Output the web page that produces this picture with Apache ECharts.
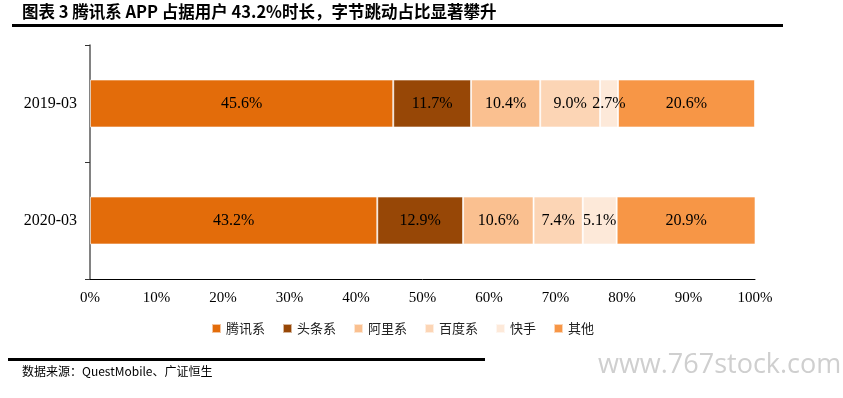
<!DOCTYPE html>
<html>
<head>
<meta charset="utf-8">
<script src="https://cdn.jsdelivr.net/npm/echarts@6/dist/echarts.min.js"></script>
<style>
  html, body { margin: 0; padding: 0; background: #fff; }
  #main { width: 843px; height: 398px; }
</style>
</head>
<body>
<div id="main"></div>
<script>
// 数据
var categories = ['2019-03', '2020-03'];
var seriesNames = ['腾讯系', '头条系', '阿里系', '百度系', '快手', '其他'];
var tengxun = [45.6, 43.2];
var toutiao = [11.7, 12.9];
var ali = [10.4, 10.6];
var baidu = [9.0, 7.4];
var kuaishou = [2.7, 5.1];
var others = [20.6, 20.9];
var xTicks = ['0%', '10%', '20%', '30%', '40%', '50%', '60%', '70%', '80%', '90%', '100%'];

var colors = ['#E36C0A', '#974706', '#FAC090', '#FCD5B5', '#FDE9D9', '#F79646'];
var serif = '"Liberation Serif", "Times New Roman", "Noto Sans CJK SC", serif';

var chart = echarts.init(document.getElementById('main'));

function makeSeries(name, data) {
  return {
    name: name,
    type: 'bar',
    stack: 'total',
    barWidth: 48,
    data: data,
    itemStyle: {
      borderColor: 'rgba(255,255,255,0.6)',
      borderWidth: 1
    },
    label: {
      show: true,
      position: 'inside',
      color: '#000',
      fontFamily: serif,
      fontSize: 16,
      formatter: function (p) {
        return p.value.toFixed(1) + '%';
      }
    }
  };
}

chart.setOption({
  animation: false,
  color: colors,
  grid: {
    left: 90,
    right: 88,
    top: 45,
    bottom: 119
  },
  legend: {
    data: seriesNames,
    bottom: 58,
    left: 206,
    itemWidth: 9,
    itemHeight: 9,
    itemGap: 17,
    icon: 'rect',
    textStyle: {
      fontFamily: '"Noto Sans CJK SC", serif',
      fontSize: 13,
      color: '#222'
    }
  },
  xAxis: {
    type: 'value',
    min: 0,
    max: 100,
    interval: 10,
    axisLine: { show: true, lineStyle: { color: '#000', width: 1 } },
    axisTick: { show: false },
    splitLine: { show: false },
    axisLabel: {
      margin: 12,
      color: '#000',
      fontFamily: serif,
      fontSize: 15,
      formatter: function (v) {
        return xTicks[Math.round(v / 10)];
      }
    }
  },
  yAxis: {
    type: 'category',
    inverse: true,
    data: categories,
    axisLine: { show: true, lineStyle: { color: '#595959', width: 1.5 } },
    axisTick: { show: true, length: 5, lineStyle: { color: '#333' } },
    axisLabel: {
      margin: 13,
      color: '#000',
      fontFamily: serif,
      fontSize: 16
    }
  },
  series: [
    makeSeries(seriesNames[0], tengxun),
    makeSeries(seriesNames[1], toutiao),
    makeSeries(seriesNames[2], ali),
    makeSeries(seriesNames[3], baidu),
    makeSeries(seriesNames[4], kuaishou),
    makeSeries(seriesNames[5], others)
  ],
  graphic: [
    { // 标题
      type: 'text',
      left: 22,
      top: 3,
      style: {
        text: '图表 3 腾讯系 APP 占据用户 43.2%时长，字节跳动占比显著攀升',
        font: 'bold 16.5px "Noto Sans CJK SC", serif',
        fill: '#000'
      }
    },
    {
      type: 'rect',
      shape: { x: 12, y: 24, width: 771, height: 3 },
      style: { fill: '#000' }
    },
    { // 底部来源
      type: 'rect',
      shape: { x: 8, y: 358, width: 477, height: 3 },
      style: { fill: '#000' }
    },
    {
      type: 'text',
      left: 22,
      top: 365,
      style: {
        text: '数据来源：QuestMobile、广证恒生',
        font: '12px "Noto Sans CJK SC", serif',
        fill: '#000'
      }
    },
    { // 水印
      type: 'text',
      left: 598,
      top: 352,
      style: {
        text: 'www.767stock.com',
        font: '27px "Open Sans", sans-serif',
        fill: '#cfcfcf'
      }
    }
  ]
});
</script>
</body>
</html>
